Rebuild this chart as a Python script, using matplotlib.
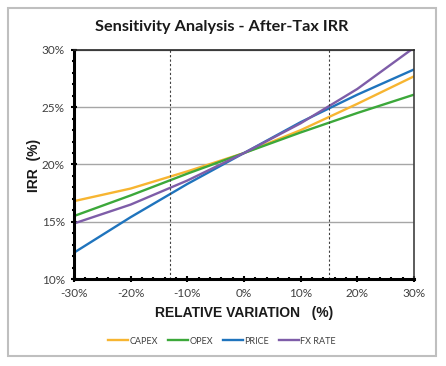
import matplotlib.pyplot as plt
from matplotlib import ticker
from matplotlib.patches import Rectangle

# relative variation (%) and IRR (%) per driver
variation = [-30, -20, -10, 0, 10, 20, 30]
capex = [16.8, 17.9, 19.4, 21.0, 23.0, 25.3, 27.7]
opex = [15.5, 17.3, 19.2, 21.0, 22.8, 24.5, 26.1]
price = [12.3, 15.4, 18.3, 21.0, 23.7, 26.1, 28.3]
fx_rate = [14.85, 16.5, 18.6, 21.0, 23.6, 26.6, 30.2]
series_names = ['CAPEX', 'OPEX', 'PRICE', 'FX RATE']
break_even = [-13, 15]

colors = ['#F7B531', '#3CA83A', '#1F74BD', '#7E5DA8']

fig = plt.figure(figsize=(4.46, 3.66), dpi=100)
fig.patch.set_facecolor('white')

# chart area border
fig.patches.append(Rectangle((8 / 446, 10 / 366), 428 / 446, 348 / 366,
                             transform=fig.transFigure, fill=False,
                             edgecolor='#BFBFBF', lw=1.5))

ax = fig.add_axes([74 / 446, 1 - 279 / 366, 340 / 446, 229 / 366])

for vals, name, c in zip([capex, opex, price, fx_rate], series_names, colors):
    ax.plot(variation, vals, color=c, lw=1.7, label=name, clip_on=True)

for x in break_even:
    ax.axvline(x, color='#404040', lw=0.8, ls=(0, (2, 2)))

ax.set_xlim(-30, 30)
ax.set_ylim(10, 30)
ax.yaxis.grid(True, color='#A6A6A6', lw=1)
ax.set_axisbelow(True)

ax.xaxis.set_major_locator(ticker.MultipleLocator(10))
ax.xaxis.set_minor_locator(ticker.MultipleLocator(2))
ax.yaxis.set_major_locator(ticker.MultipleLocator(5))
ax.yaxis.set_minor_locator(ticker.MultipleLocator(1))
ax.xaxis.set_major_formatter(ticker.FuncFormatter(lambda v, p: f'{v:.0f}%'))
ax.yaxis.set_major_formatter(ticker.FuncFormatter(lambda v, p: f'{v:.0f}%'))

ax.tick_params(which='both', direction='inout', color='black', width=1.5,
               labelsize=8.5, labelcolor='#404040', pad=4)
ax.tick_params(which='major', length=5)
ax.tick_params(which='minor', length=3)
ax.tick_params(axis='x', which='both', top=False)
ax.tick_params(axis='y', which='both', right=False)
for lbl in ax.get_xticklabels() + ax.get_yticklabels():
    lbl.set_family('Lato')

ax.spines['left'].set_linewidth(2.2)
ax.spines['bottom'].set_linewidth(2.2)
ax.spines['top'].set_color('#262626')
ax.spines['right'].set_color('#404040')
ax.spines['top'].set_linewidth(1.2)
ax.spines['right'].set_linewidth(1.2)

fig.text(222 / 446, 1 - 27 / 366, 'Sensitivity Analysis - After-Tax IRR',
         ha='center', va='center', fontsize=11.7, fontweight='bold',
         family='Lato', color='#1a1a1a')
fig.text(244 / 446, 1 - 313 / 366, 'RELATIVE VARIATION   (%)',
         ha='center', va='center', fontsize=10, fontweight='bold',
         family='Liberation Sans', color='#1a1a1a')
fig.text(34 / 446, 1 - 165 / 366, 'IRR  (%)', rotation=90,
         ha='center', va='center', fontsize=10, fontweight='bold',
         family='Liberation Sans', color='#1a1a1a')

fig.legend(loc='center', bbox_to_anchor=(222 / 446, 1 - 341 / 366), ncol=4,
           frameon=False, prop={'family': 'Lato', 'size': 6.5},
           labelcolor='#404040', handlelength=2.2, handletextpad=0.15,
           columnspacing=1.1)

fig.savefig('out.png', dpi=100)
